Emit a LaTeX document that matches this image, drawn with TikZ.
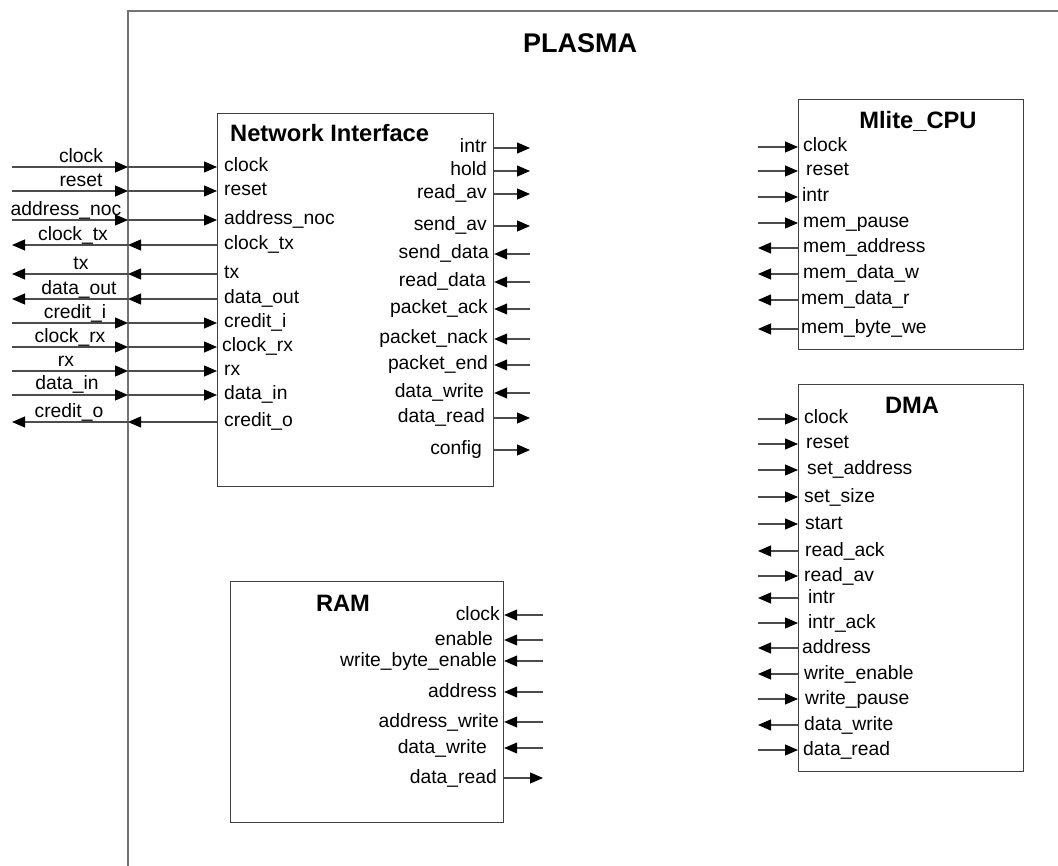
\documentclass[tikz,border=0pt]{standalone}
\usepackage{fontspec}
\setmainfont{Liberation Sans}
\usetikzlibrary{arrows.meta,calc}
\definecolor{FrameClr}{rgb}{0.45,0.45,0.45}
\definecolor{BoxClr}{rgb}{0.25,0.25,0.25}
\definecolor{WireClr}{rgb}{0.3,0.3,0.3}

\begin{document}
\begin{tikzpicture}[x=1pt,y=-1pt,
  blk/.style={draw=BoxClr,line width=1.2pt,rectangle,anchor=north west,inner sep=0pt},
  ttl/.style={font=\bfseries\fontsize{23.7}{26}\selectfont,inner sep=0pt,text depth=0pt},
  pin/.style={font=\fontsize{19.3}{22}\selectfont,inner sep=0pt,text height=14pt,text depth=4pt},
  pinW/.style={pin,anchor=west},
  pinE/.style={pin,anchor=east},
  extlbl/.style={font=\fontsize{19.3}{22}\selectfont,inner sep=0pt,anchor=base},
  sig/.style={draw=WireClr,line width=1.1pt,-{Triangle[length=13pt,width=11pt,color=black]}}]
\useasboundingbox (0,0) rectangle (1058,866);

% frame of the whole system
\draw[draw=FrameClr,line width=1.5pt] (128,866) |- (1058,11);
\node[font=\bfseries\fontsize{27}{30}\selectfont,inner sep=0pt] (plasma) at (580,43) {PLASMA};

\coordinate (plasmaW) at (128,0);
\coordinate (extL) at (12,0);
\coordinate (niR) at (530,0);
\coordinate (cpuL) at (758,0);
\coordinate (dmaL) at (758,0);
\coordinate (ramR) at (543,0);

% blocks
\node[blk,minimum width=276pt,minimum height=373pt] (ni) at (217,113) {};
\node[blk,minimum width=225pt,minimum height=250pt] (cpu) at (798,99) {};
\node[blk,minimum width=225pt,minimum height=387pt] (dma) at (798,384) {};
\node[blk,minimum width=273pt,minimum height=241pt] (ram) at (230,581) {};

\node[ttl,anchor=west] (ni-title) at (230,133) {Network Interface};
\node[ttl] (cpu-title) at (918,120) {Mlite\_CPU};
\node[ttl] (dma-title) at (912,405) {DMA};
\node[ttl] (ram-title) at (343,603) {RAM};

% Network Interface, left side
\node[pinW] (ni-clock) at (224,167) {clock};
\node[extlbl] (ni-clock-x) at (81,163) {clock};
\draw[sig] (extL |- ni-clock) -- (plasmaW |- ni-clock);
\draw[sig] (plasmaW |- ni-clock) -- (ni.west |- ni-clock);

\node[pinW] (ni-reset) at (224,191) {reset};
\node[extlbl] (ni-reset-x) at (81,187) {reset};
\draw[sig] (extL |- ni-reset) -- (plasmaW |- ni-reset);
\draw[sig] (plasmaW |- ni-reset) -- (ni.west |- ni-reset);

\node[pinW] (ni-addr) at (224,220) {address\_noc};
\node[extlbl] (ni-addr-x) at (66,216) {address\_noc};
\draw[sig] (extL |- ni-addr) -- (plasmaW |- ni-addr);
\draw[sig] (plasmaW |- ni-addr) -- (ni.west |- ni-addr);

\node[pinW] (ni-clocktx) at (224,245) {clock\_tx};
\node[extlbl] (ni-clocktx-x) at (73,241) {clock\_tx};
\draw[sig] (ni.west |- ni-clocktx) -- (plasmaW |- ni-clocktx);
\draw[sig] (plasmaW |- ni-clocktx) -- (extL |- ni-clocktx);

\node[pinW] (ni-tx) at (224,274) {tx};
\node[extlbl] (ni-tx-x) at (81,270) {tx};
\draw[sig] (ni.west |- ni-tx) -- (plasmaW |- ni-tx);
\draw[sig] (plasmaW |- ni-tx) -- (extL |- ni-tx);

\node[pinW] (ni-dataout) at (224,299) {data\_out};
\node[extlbl] (ni-dataout-x) at (79,295) {data\_out};
\draw[sig] (ni.west |- ni-dataout) -- (plasmaW |- ni-dataout);
\draw[sig] (plasmaW |- ni-dataout) -- (extL |- ni-dataout);

\node[pinW] (ni-crediti) at (224,323) {credit\_i};
\node[extlbl] (ni-crediti-x) at (75,319) {credit\_i};
\draw[sig] (extL |- ni-crediti) -- (plasmaW |- ni-crediti);
\draw[sig] (plasmaW |- ni-crediti) -- (ni.west |- ni-crediti);

\node[pinW] (ni-clockrx) at (222,347) {clock\_rx};
\node[extlbl] (ni-clockrx-x) at (70,343) {clock\_rx};
\draw[sig] (extL |- ni-clockrx) -- (plasmaW |- ni-clockrx);
\draw[sig] (plasmaW |- ni-clockrx) -- (ni.west |- ni-clockrx);

\node[pinW] (ni-rx) at (224,371) {rx};
\node[extlbl] (ni-rx-x) at (66,367) {rx};
\draw[sig] (extL |- ni-rx) -- (plasmaW |- ni-rx);
\draw[sig] (plasmaW |- ni-rx) -- (ni.west |- ni-rx);

\node[pinW] (ni-datain) at (224,395) {data\_in};
\node[extlbl] (ni-datain-x) at (67,390) {data\_in};
\draw[sig] (extL |- ni-datain) -- (plasmaW |- ni-datain);
\draw[sig] (plasmaW |- ni-datain) -- (ni.west |- ni-datain);

\node[pinW] (ni-credito) at (224,422) {credit\_o};
\node[extlbl] (ni-credito-x) at (69,418) {credit\_o};
\draw[sig] (ni.west |- ni-credito) -- (plasmaW |- ni-credito);
\draw[sig] (plasmaW |- ni-credito) -- (extL |- ni-credito);

% Network Interface, right side
\node[pinE] (ni-intr) at (487,148) {intr};
\draw[sig] (ni.east |- ni-intr) -- (niR |- ni-intr);
\node[pinE] (ni-hold) at (487,171) {hold};
\draw[sig] (ni.east |- ni-hold) -- (niR |- ni-hold);
\node[pinE] (ni-readav) at (487,194) {read\_av};
\draw[sig] (ni.east |- ni-readav) -- (niR |- ni-readav);
\node[pinE] (ni-sendav) at (487,226) {send\_av};
\draw[sig] (ni.east |- ni-sendav) -- (niR |- ni-sendav);
\node[pinE] (ni-senddata) at (489,254) {send\_data};
\draw[sig] (niR |- ni-senddata) -- (ni.east |- ni-senddata);
\node[pinE] (ni-readdata) at (486,282) {read\_data};
\draw[sig] (niR |- ni-readdata) -- (ni.east |- ni-readdata);
\node[pinE] (ni-pack) at (488,309) {packet\_ack};
\draw[sig] (niR |- ni-pack) -- (ni.east |- ni-pack);
\node[pinE] (ni-pnack) at (488,339) {packet\_nack};
\draw[sig] (niR |- ni-pnack) -- (ni.east |- ni-pnack);
\node[pinE] (ni-pend) at (488,365) {packet\_end};
\draw[sig] (niR |- ni-pend) -- (ni.east |- ni-pend);
\node[pinE] (ni-datawrite) at (484,393) {data\_write};
\draw[sig] (niR |- ni-datawrite) -- (ni.east |- ni-datawrite);
\node[pinE] (ni-dataread) at (485,418) {data\_read};
\draw[sig] (ni.east |- ni-dataread) -- (niR |- ni-dataread);
\node[pinE] (ni-config) at (482,450) {config};
\draw[sig] (ni.east |- ni-config) -- (niR |- ni-config);

% Mlite_CPU
\node[pinW] (cpu-clock) at (803,147) {clock};
\draw[sig] (cpuL |- cpu-clock) -- (cpu.west |- cpu-clock);
\node[pinW] (cpu-reset) at (806,171) {reset};
\draw[sig] (cpuL |- cpu-reset) -- (cpu.west |- cpu-reset);
\node[pinW] (cpu-intr) at (802,197) {intr};
\draw[sig] (cpuL |- cpu-intr) -- (cpu.west |- cpu-intr);
\node[pinW] (cpu-mempause) at (803,223) {mem\_pause};
\draw[sig] (cpuL |- cpu-mempause) -- (cpu.west |- cpu-mempause);
\node[pinW] (cpu-memaddr) at (803,248) {mem\_address};
\draw[sig] (cpu.west |- cpu-memaddr) -- (cpuL |- cpu-memaddr);
\node[pinW] (cpu-memdataw) at (803,274) {mem\_data\_w};
\draw[sig] (cpu.west |- cpu-memdataw) -- (cpuL |- cpu-memdataw);
\node[pinW] (cpu-memdatar) at (801,300) {mem\_data\_r};
\draw[sig] (cpu.west |- cpu-memdatar) -- (cpuL |- cpu-memdatar);
\node[pinW] (cpu-membytewe) at (801,329) {mem\_byte\_we};
\draw[sig] (cpu.west |- cpu-membytewe) -- (cpuL |- cpu-membytewe);

% DMA
\node[pinW] (dma-clock) at (804,419) {clock};
\draw[sig] (dmaL |- dma-clock) -- (dma.west |- dma-clock);
\node[pinW] (dma-reset) at (806,444) {reset};
\draw[sig] (dmaL |- dma-reset) -- (dma.west |- dma-reset);
\node[pinW] (dma-setaddr) at (807,470) {set\_address};
\draw[sig] (dmaL |- dma-setaddr) -- (dma.west |- dma-setaddr);
\node[pinW] (dma-setsize) at (804,497) {set\_size};
\draw[sig] (dmaL |- dma-setsize) -- (dma.west |- dma-setsize);
\node[pinW] (dma-start) at (805,524) {start};
\draw[sig] (dmaL |- dma-start) -- (dma.west |- dma-start);
\node[pinW] (dma-readack) at (805,551) {read\_ack};
\draw[sig] (dma.west |- dma-readack) -- (dmaL |- dma-readack);
\node[pinW] (dma-readav) at (804,576) {read\_av};
\draw[sig] (dmaL |- dma-readav) -- (dma.west |- dma-readav);
\node[pinW] (dma-intr) at (808,598) {intr};
\draw[sig] (dma.west |- dma-intr) -- (dmaL |- dma-intr);
\node[pinW] (dma-intrack) at (808,623) {intr\_ack};
\draw[sig] (dmaL |- dma-intrack) -- (dma.west |- dma-intrack);
\node[pinW] (dma-addr) at (802,648) {address};
\draw[sig] (dma.west |- dma-addr) -- (dmaL |- dma-addr);
\node[pinW] (dma-wen) at (804,674) {write\_enable};
\draw[sig] (dma.west |- dma-wen) -- (dmaL |- dma-wen);
\node[pinW] (dma-wpause) at (805,699) {write\_pause};
\draw[sig] (dmaL |- dma-wpause) -- (dma.west |- dma-wpause);
\node[pinW] (dma-datawrite) at (804,725) {data\_write};
\draw[sig] (dma.west |- dma-datawrite) -- (dmaL |- dma-datawrite);
\node[pinW] (dma-dataread) at (803,750) {data\_read};
\draw[sig] (dmaL |- dma-dataread) -- (dma.west |- dma-dataread);

% RAM
\node[pinE] (ram-clock) at (500,615) {clock};
\draw[sig] (ramR |- ram-clock) -- (ram.east |- ram-clock);
\node[pinE] (ram-enable) at (493,640) {enable};
\draw[sig] (ramR |- ram-enable) -- (ram.east |- ram-enable);
\node[pinE] (ram-wbe) at (497,661) {write\_byte\_enable};
\draw[sig] (ramR |- ram-wbe) -- (ram.east |- ram-wbe);
\node[pinE] (ram-addr) at (497,692) {address};
\draw[sig] (ramR |- ram-addr) -- (ram.east |- ram-addr);
\node[pinE] (ram-addrwrite) at (499,722) {address\_write};
\draw[sig] (ramR |- ram-addrwrite) -- (ram.east |- ram-addrwrite);
\node[pinE] (ram-datawrite) at (487,748) {data\_write};
\draw[sig] (ramR |- ram-datawrite) -- (ram.east |- ram-datawrite);
\node[pinE] (ram-dataread) at (497,778) {data\_read};
\draw[sig] (ram.east |- ram-dataread) -- (ramR |- ram-dataread);

\end{tikzpicture}
\end{document}
